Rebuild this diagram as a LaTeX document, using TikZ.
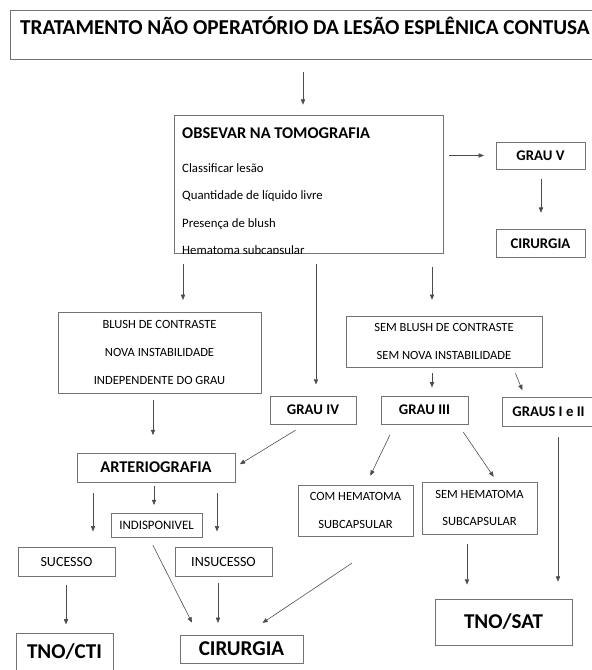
\documentclass[tikz,border=0pt]{standalone}
\usepackage{fontspec}
\setmainfont{Carlito}
\usetikzlibrary{arrows.meta}

\begin{document}
\begin{tikzpicture}[x=0.03cm, y=-0.03cm,
    box/.style={draw=black!55, line width=0.6pt, inner sep=0pt, align=center},
    arr/.style={-{Triangle[length=4.5pt,width=3.6pt]}, draw=black!70, line width=0.5pt},
    hugetxt/.style={font=\fontsize{18.1}{21}\selectfont\bfseries},
    bigtxt/.style={font=\fontsize{18}{21}\selectfont\bfseries},
    midtxt/.style={font=\fontsize{14}{16}\selectfont\bfseries},
    grautxt/.style={font=\fontsize{12.6}{15}\selectfont\bfseries},
    smalltxt/.style={font=\fontsize{10.7}{23.5}\selectfont},
    onetxt/.style={font=\fontsize{12}{14}\selectfont}]
    \useasboundingbox (0,0) rectangle (592,670);
    \clip (0,0) rectangle (592,670);

    % Title and CT box
    \node[box, minimum width=19.5cm, minimum height=1.47cm] (title) at (335,34.5) {};
    \node[hugetxt] (titletext) at (305,26) {TRATAMENTO NÃO OPERATÓRIO DA LESÃO ESPLÊNICA CONTUSA};
    \node[box, minimum width=8.07cm, minimum height=4.14cm] (tomo) at (308.5,184) {};
    \begin{scope}
        \clip (tomo.south west) rectangle (tomo.north east);
        \node[anchor=north west, inner sep=0pt, align=left, font=\fontsize{10.9}{23.5}\selectfont] (tomotext) at (182,128)
            {{\fontsize{14}{23.5}\selectfont\bfseries OBSEVAR NA TOMOGRAFIA}\\[5pt]
             Classificar lesão\\ Quantidade de líquido livre\\ Presença de blush\\ Hematoma subcapsular};
    \end{scope}

    % Grade V branch
    \node[box, grautxt, minimum width=2.67cm, minimum height=0.81cm] (grauV) at (540.5,155.5) {GRAU V};
    \node[box, grautxt, minimum width=2.67cm, minimum height=0.84cm] (cirV) at (540.5,243.5) {CIRURGIA};

    % Second level
    \node[box, smalltxt, minimum width=6.09cm, minimum height=2.43cm] (blush) at (159.5,352.5)
        {BLUSH DE CONTRASTE\\ NOVA INSTABILIDADE\\ INDEPENDENTE DO GRAU};
    \node[box, smalltxt, minimum width=5.88cm, minimum height=1.53cm] (semblush) at (444,341.5)
        {SEM BLUSH DE CONTRASTE\\ SEM NOVA INSTABILIDADE};
    \node[box, grautxt, minimum width=2.58cm, minimum height=0.84cm] (grauIV) at (313,410) {GRAU IV};
    \node[box, grautxt, minimum width=2.61cm, minimum height=0.84cm] (grauIII) at (424.5,410) {GRAU III};
    \node[box, grautxt, minimum width=2.79cm, minimum height=0.87cm] (grausI) at (548.5,411.5) {GRAUS I e II};

    % Arteriography
    \node[box, midtxt, minimum width=4.74cm, minimum height=0.87cm] (arterio) at (156,467.5) {ARTERIOGRAFIA};
    \node[box, onetxt, font=\fontsize{11}{13}\selectfont, minimum width=2.73cm, minimum height=0.72cm] (indisp) at (156.5,525) {INDISPONIVEL};
    \node[box, onetxt, minimum width=2.91cm, minimum height=0.87cm] (sucesso) at (66.5,561.5) {SUCESSO};
    \node[box, onetxt, minimum width=2.91cm, minimum height=0.87cm] (insucesso) at (223.5,561.5) {INSUCESSO};

    % Hematoma
    \node[box, smalltxt, minimum width=3.45cm, minimum height=1.53cm] (com) at (355.5,510.5) {COM HEMATOMA\\ SUBCAPSULAR};
    \node[box, smalltxt, minimum width=3.45cm, minimum height=1.56cm] (sem) at (479.5,508) {SEM HEMATOMA\\ SUBCAPSULAR};

    % Outcomes
    \node[box, bigtxt, minimum width=4.11cm, minimum height=1.38cm] (tnosat) at (503.5,622) {TNO/SAT};
    \node[box, bigtxt, minimum width=2.91cm, minimum height=1.14cm] (tnocti) at (64.5,652) {TNO/CTI};
    \node[box, bigtxt, minimum width=3.69cm, minimum height=0.84cm] (cirurgia) at (241.5,649) {CIRURGIA};

    % Arrows
    \draw[arr, shorten <=11pt, shorten >=8.5pt] (title.south -| 303,0) -- (tomo.north -| 303,0);
    \draw[arr, shorten <=5pt, shorten >=10pt] (tomo.east |- grauV) -- (grauV.west);
    \draw[arr, shorten <=8.5pt, shorten >=14pt] (grauV.south -| 541,0) -- (cirV.north -| 541,0);
    \draw[arr, shorten <=9.5pt, shorten >=10pt] (tomo.south -| 183,0) -- (blush.north -| 183,0);
    \draw[arr, shorten <=9.5pt, shorten >=9.5pt] (tomo.south -| 316,0) -- (grauIV.north -| 316,0);
    \draw[arr, shorten <=12pt, shorten >=13.5pt] (tomo.south -| 432,0) -- (semblush.north -| 432,0);
    \draw[arr, shorten <=5pt, shorten >=7pt] (semblush.south -| 432,0) -- (grauIII.north -| 432,0);
    \draw[arr, shorten <=5.5pt, shorten >=6pt] (semblush.south -| 513,0) -- (grausI.north -| 525,0);
    \draw[arr, shorten <=6pt, shorten >=15pt] (blush.south -| 153,0) -- (arterio.north -| 153,0);
    \draw[arr, shorten <=9.5pt, shorten >=4.5pt] (grauIV.south -| 305,0) -- (arterio.east |- 0,467);
    \draw[arr, shorten <=9pt, shorten >=13pt] (arterio.south -| 93,0) -- (sucesso.north -| 93,0);
    \draw[arr, shorten <=3.5pt, shorten >=6.5pt] (arterio.south -| 154,0) -- (indisp.north -| 154,0);
    \draw[arr, shorten <=9pt, shorten >=13pt] (arterio.south -| 217,0) -- (insucesso.north -| 217,0);
    \draw[arr, shorten <=10pt, shorten >=8.5pt] (grauIII.south -| 395,0) -- (com.north -| 366,0);
    \draw[arr, shorten <=8pt, shorten >=5pt] (grauIII.south -| 458,0) -- (sem.north -| 497,0);
    \draw[arr, shorten <=8.5pt, shorten >=12pt] (sem.south -| 467,0) -- (tnosat.north -| 467,0);
    \draw[arr, shorten <=9.5pt, shorten >=14.5pt] (grausI.south -| 558,0) -- (tnosat.north -| 558,0);
    \draw[arr, shorten <=7pt, shorten >=7pt] (sucesso.south -| 66,0) -- (tnocti.north -| 66,0);
    \draw[arr, shorten <=7.5pt, shorten >=11.5pt] (indisp.south -| 149,0) -- (cirurgia.north -| 198,0);
    \draw[arr, shorten <=6pt, shorten >=10pt] (insucesso.south -| 218,0) -- (cirurgia.north -| 218,0);
    \draw[arr, shorten <=41pt, shorten >=18pt] (com.south -| 392,0) -- (cirurgia.north -| 245,0);
\end{tikzpicture}
\end{document}
